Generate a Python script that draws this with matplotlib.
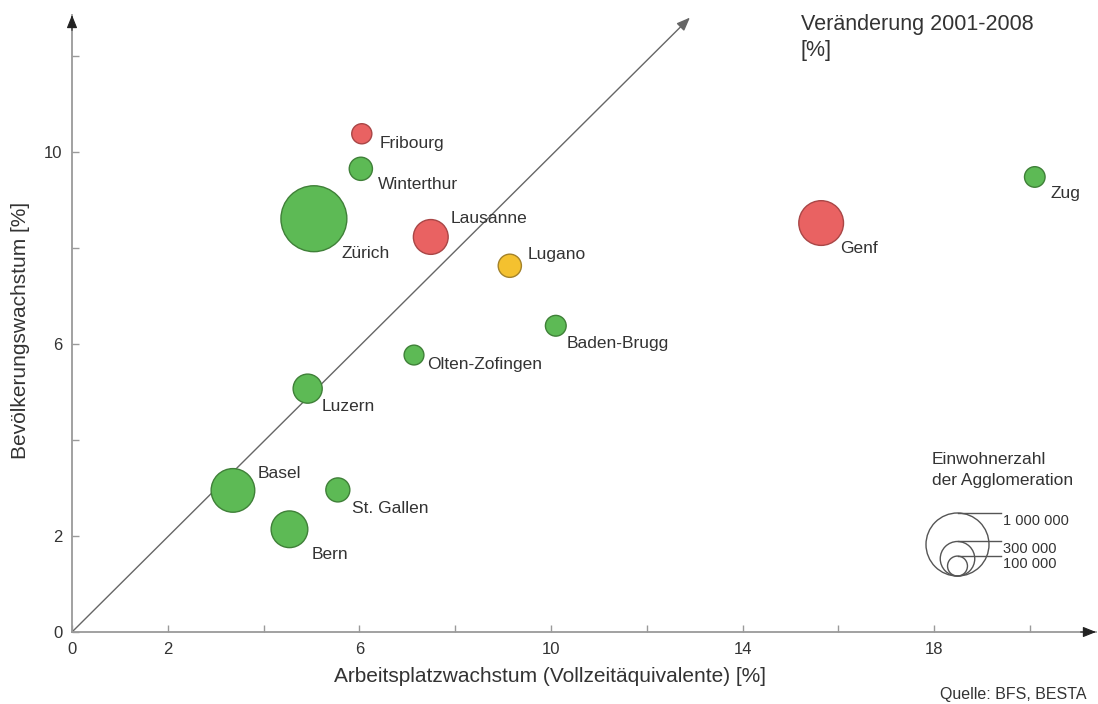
import numpy as np
import matplotlib
matplotlib.use("Agg")
import matplotlib.pyplot as plt
from matplotlib.patches import Circle
from matplotlib.lines import Line2D
from matplotlib.transforms import IdentityTransform

plt.rcParams['font.family'] = ['Liberation Sans', 'DejaVu Sans']

# ---------------- data ----------------
cities = ["Fribourg", "Winterthur", "Zürich", "Lausanne", "Lugano", "Genf", "Zug",
          "Baden-Brugg", "Olten-Zofingen", "Luzern", "Basel", "St. Gallen", "Bern"]
job_growth = [6.05, 6.03, 5.05, 7.49, 9.14, 15.64, 20.1, 10.1, 7.14, 4.92, 3.36, 5.55, 4.54]
pop_growth = [10.38, 9.65, 8.61, 8.23, 7.63, 8.52, 9.48, 6.38, 5.77, 5.07, 2.95, 2.96, 2.14]
population = [105000, 140000, 1130000, 315000, 140000, 520000, 110000,
              112000, 102000, 220000, 495000, 150000, 350000]
category = ["r", "g", "g", "r", "y", "r", "g", "g", "g", "g", "g", "g", "g"]

x_ticks = [0, 2, 4, 6, 8, 10, 12, 14, 16, 18, 20]
x_ticklabels = ["0", "2", "", "6", "", "10", "", "14", "", "18", ""]
y_ticks = [0, 2, 4, 6, 8, 10, 12]
y_ticklabels = ["0", "2", "", "6", "", "10", ""]

legend_pops = [1000000, 300000, 100000]
legend_labels = ["1 000 000", "300 000", "100 000"]

# label offsets in pixels (dx right, dy down) relative to circle centre
label_dx = [18, 17, 28, 20, 18, 19, 16, 11, 13, 14, 25, 14, 22]
label_dy = [8, 14, 33, -20, -13, 24, 15, 16, 8, 16, -18, 17, 24]

# ---------------- style ----------------
fills = {"g": "#5dba55", "r": "#e96262", "y": "#f4c12f"}
edges = {"g": "#3f8038", "r": "#a94646", "y": "#a3822a"}
R1M = 31.0  # pixel radius of a 1 000 000 circle
txt = "#333333"
axcol = "#9a9a9a"

W, H = 1098, 704
fig = plt.figure(figsize=(W / 100, H / 100), dpi=100)
ax = fig.add_axes([72 / W, 72 / H, 1024 / W, 617 / H])
ax.set_xlim(0, 1024 / 47.9)
ax.set_ylim(0, 617 / 48.0)

for s in ["top", "right"]:
    ax.spines[s].set_visible(False)
for s in ["bottom", "left"]:
    ax.spines[s].set_color(axcol)
    ax.spines[s].set_linewidth(1.3)

ax.set_xticks(x_ticks)
ax.set_xticklabels(x_ticklabels)
ax.set_yticks(y_ticks)
ax.set_yticklabels(y_ticklabels)
ax.tick_params(axis="both", direction="in", length=5, width=1, color=axcol,
               labelsize=12, labelcolor=txt)
ax.tick_params(axis="x", pad=7)
ax.tick_params(axis="y", pad=7)

# axis arrowheads
ap = dict(arrowstyle="-|>,head_length=0.8,head_width=0.32", color="#222222",
          lw=0.8, shrinkA=0, shrinkB=0, mutation_scale=10)
ax.annotate("", xy=(1, 0), xycoords="axes fraction", xytext=(0.985, 0),
            arrowprops=ap, annotation_clip=False)
ax.annotate("", xy=(0, 1), xycoords="axes fraction", xytext=(0, 0.975),
            arrowprops=ap, annotation_clip=False)

# diagonal reference line y = x
ax.annotate("", xy=(12.9, 12.8), xytext=(0, 0),
            arrowprops=dict(arrowstyle="-|>,head_length=0.8,head_width=0.32",
                            color="#666666", lw=1.0, shrinkA=0, shrinkB=0,
                            mutation_scale=10), zorder=2)

# bubbles
sizes = [(2 * R1M * np.sqrt(p / 1e6) * 0.72) ** 2 for p in population]
ax.scatter(job_growth, pop_growth, s=sizes,
           c=[fills[c] for c in category],
           edgecolors=[edges[c] for c in category], linewidths=1.0, zorder=3,
           clip_on=False)

for name, x, y, dx, dy in zip(cities, job_growth, pop_growth, label_dx, label_dy):
    ax.annotate(name, (x, y), xytext=(dx, -dy - 6), textcoords="offset pixels",
                ha="left", va="baseline", fontsize=12.5, color=txt, zorder=4)

# axis titles
fig.text(550 / W, 1 - 677 / H, "Arbeitsplatzwachstum (Vollzeitäquivalente) [%]",
         ha="center", va="center", fontsize=15, color=txt)
fig.text(21 / W, 1 - 330 / H, "Bevölkerungswachstum [%]", rotation=90,
         ha="center", va="center", fontsize=15, color=txt)

# title
fig.text(801 / W, 1 - 30 / H, "Veränderung 2001-2008", ha="left", va="baseline",
         fontsize=15.5, color=txt)
fig.text(801 / W, 1 - 56 / H, "[%]", ha="left", va="baseline",
         fontsize=15.5, color=txt)

# size legend
fig.text(932 / W, 1 - 464 / H, "Einwohnerzahl", ha="left", va="baseline",
         fontsize=12.5, color=txt)
fig.text(932 / W, 1 - 485 / H, "der Agglomeration", ha="left", va="baseline",
         fontsize=12.5, color=txt)
cx, by = 957.5, H - 576
for p, lab in zip(legend_pops, legend_labels):
    r = (R1M + 0.5) * np.sqrt(p / 1e6)
    fig.add_artist(Circle((cx, by + r), r, fill=False, ec="#555555", lw=1.0,
                          transform=IdentityTransform()))
    ty = by + 2 * r
    fig.add_artist(Line2D([cx, 1001], [ty, ty], color="#555555", lw=1.0,
                          transform=IdentityTransform()))
    fig.text(1003, ty - 1, lab, ha="left", va="top", fontsize=10.5, color=txt,
             transform=IdentityTransform())

fig.text(1086 / W, 1 - 699 / H, "Quelle: BFS, BESTA", ha="right", va="baseline",
         fontsize=11.5, color=txt)

fig.savefig("out.png", dpi=100)
